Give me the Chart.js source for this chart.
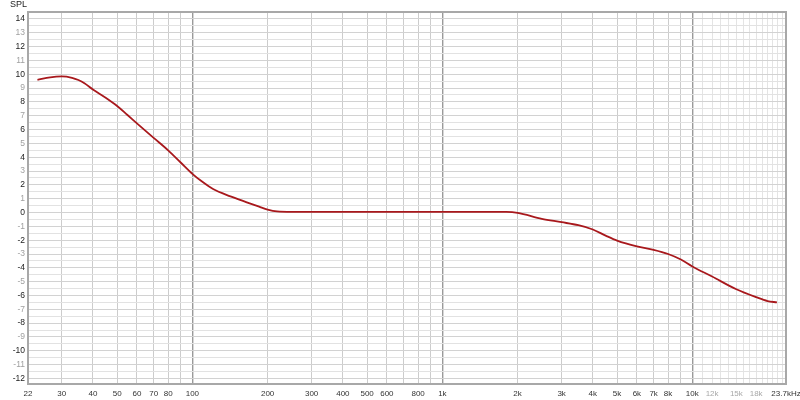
<!DOCTYPE html>
<html>
<head>
<meta charset="utf-8">
<script src="https://cdn.jsdelivr.net/npm/chart.js@4/dist/chart.umd.min.js"></script>
<style>
html,body{margin:0;padding:0;background:#fff;}
#wrap{width:800px;height:400px;position:relative;}
</style>
</head>
<body>
<div id="wrap"><canvas id="c" width="800" height="400"></canvas></div>
<script>
// Frequency (Hz) and SPL (dB) of the response curve
const freqs = [24, 27, 30, 33, 35, 37, 40, 45, 50, 55, 60, 70, 80, 90, 100, 110, 121, 142, 165, 185, 200, 218, 250, 300, 500, 1000, 1500, 1800, 2000, 2500, 3000, 3500, 4000, 4500, 5000, 6000, 7000, 8000, 9000, 10000, 12000, 15000, 18000, 20000, 21800];
const spl   = [9.6, 9.78, 9.84, 9.74, 9.58, 9.35, 8.9, 8.3, 7.7, 7.05, 6.45, 5.4, 4.5, 3.6, 2.8, 2.2, 1.7, 1.17, 0.74, 0.42, 0.21, 0.08, 0.05, 0.05, 0.05, 0.05, 0.05, 0.04, -0.03, -0.46, -0.7, -0.92, -1.23, -1.67, -2.03, -2.45, -2.7, -3.0, -3.4, -3.9, -4.63, -5.55, -6.12, -6.4, -6.5];

// X grid / tick values and labels
const xGridValues = [22, 30, 40, 50, 60, 70, 80, 90, 100, 200, 300, 400, 500, 600, 700, 800, 900, 1000, 2000, 3000, 4000, 5000, 6000, 7000, 8000, 9000, 10000, 11000, 12000, 13000, 14000, 15000, 16000, 17000, 18000, 19000, 20000, 21000, 22000, 23000, 23700];
const xLabelValues = [22, 30, 40, 50, 60, 70, 80, 100, 200, 300, 400, 500, 600, 800, 1000, 2000, 3000, 4000, 5000, 6000, 7000, 8000, 10000, 12000, 15000, 18000, 23700];
const xLabelTexts  = ['22', '30', '40', '50', '60', '70', '80', '100', '200', '300', '400', '500', '600', '800', '1k', '2k', '3k', '4k', '5k', '6k', '7k', '8k', '10k', '12k', '15k', '18k', '23.7kHz'];
const xLightLabels = [12000, 15000, 18000];

// Y ticks
const yMin = -12.4, yMax = 14.5;
const yLabelValues = [-12,-11,-10,-9,-8,-7,-6,-5,-4,-3,-2,-1,0,1,2,3,4,5,6,7,8,9,10,11,12,13,14];
const yAxisTitle = 'SPL';

const points = freqs.map((f, i) => ({x: f, y: spl[i]}));
const FONT = '"Liberation Sans", Arial, sans-serif';

const framePlugin = {
  id: 'frame',
  afterDraw(chart) {
    const a = chart.chartArea, ctx = chart.ctx;
    ctx.save();
    ctx.strokeStyle = '#a8a8a8';
    ctx.lineWidth = 2;
    ctx.strokeRect(a.left, a.top, a.right - a.left, a.bottom - a.top);
    ctx.fillStyle = '#222';
    ctx.font = '9px ' + FONT;
    ctx.textBaseline = 'middle';
    ctx.textAlign = 'left';
    ctx.fillText(yAxisTitle, 10, 5);
    ctx.restore();
  }
};

function xGridColor(v) {
  if (v === 100 || v === 1000 || v === 10000) return '#9a9a9a';
  if (v > 10000) return '#e4e4e4';
  return '#cccccc';
}

new Chart(document.getElementById('c'), {
  type: 'line',
  data: {
    datasets: [{
      data: points,
      borderColor: '#a8181c',
      borderWidth: 1.8,
      pointRadius: 0,
      fill: false,
      cubicInterpolationMode: 'monotone'
    }]
  },
  options: {
    responsive: false,
    animation: false,
    events: [],
    layout: {padding: {top: 12, right: 14, left: 0, bottom: 0}},
    plugins: {legend: {display: false}, tooltip: {enabled: false}},
    scales: {
      x: {
        type: 'logarithmic',
        min: 22,
        max: 23700,
        afterBuildTicks(scale) {
          scale.ticks = xGridValues.map(v => ({value: v}));
        },
        afterFit(scale) { scale.height = 16; scale.paddingLeft = 0; scale.paddingRight = 0; },
        grid: {
          drawTicks: false,
          color: ctx => xGridColor(ctx.tick ? ctx.tick.value : 0),
          lineWidth: ctx => (ctx.tick && (ctx.tick.value === 100 || ctx.tick.value === 1000 || ctx.tick.value === 10000)) ? 1.4 : 1
        },
        border: {display: false},
        ticks: {
          autoSkip: false,
          maxRotation: 0,
          minRotation: 0,
          padding: 5,
          font: {family: FONT, size: 8},
          color: ctx => xLightLabels.includes(ctx.tick.value) ? '#a8a8a8' : '#333',
          callback: (v) => {
            const i = xLabelValues.indexOf(v);
            return i >= 0 ? xLabelTexts[i] : '';
          }
        }
      },
      y: {
        min: yMin,
        max: yMax,
        afterBuildTicks(scale) {
          const t = [];
          for (let v = -12; v <= 14.5; v += 0.5) t.push({value: v});
          scale.ticks = t;
        },
        afterFit(scale) { scale.width = 28; scale.paddingTop = 0; scale.paddingBottom = 0; },
        grid: {
          drawTicks: false,
          color: ctx => (ctx.tick && Number.isInteger(ctx.tick.value)) ? '#d2d2d2' : '#e2e2e2'
        },
        border: {display: false},
        ticks: {
          autoSkip: false,
          padding: 3,
          font: {family: FONT, size: 8.5},
          color: ctx => (Math.abs(ctx.tick.value) % 2 === 0) ? '#222' : '#a0a0a0',
          callback: (v) => yLabelValues.includes(v) ? String(v) : ''
        }
      }
    }
  },
  plugins: [framePlugin]
});
</script>
</body>
</html>
